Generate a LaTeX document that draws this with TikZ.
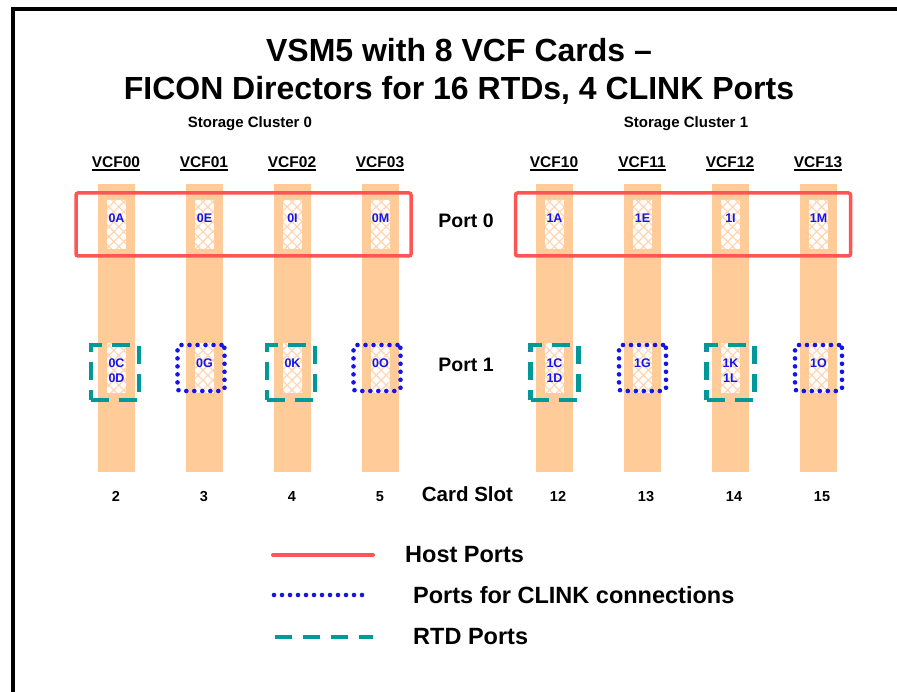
\documentclass[tikz,border=0pt]{standalone}
\usepackage{fontspec}
\setmainfont{Liberation Sans}
\usetikzlibrary{positioning, patterns.meta}
\definecolor{peach}{RGB}{255,204,153}
\definecolor{peachline}{RGB}{255,214,176}
\definecolor{hostred}{RGB}{255,85,85}
\definecolor{rtdteal}{RGB}{0,153,153}
\definecolor{clinkblue}{RGB}{20,20,235}
\tikzset{
  x=1pt, y=-1pt, % one unit is one pixel of the sketch, y runs down
  every node/.style={inner sep=0pt}, % nodes sit exactly on their coordinates
  bar/.style={fill=peach, minimum width=37pt, minimum height=288pt}, % the card
  hatch/.style={preaction={fill=white}, pattern={Hatch[angle=45,distance=7pt,line width=1.2pt]},
    pattern color=peachline, minimum width=19pt}, % the port window on a card
  portid/.style={text=clinkblue, align=center, font=\bfseries\fontsize{12.5}{15}\selectfont},
  host/.style={draw=hostred, line width=3.5pt, rounded corners=2pt, minimum width=335pt, minimum height=63pt},
  clink/.style={draw=clinkblue, line width=4.6pt, dash pattern=on 0pt off 8pt, line cap=round},
  rtd/.style={draw=rtdteal, line width=4.5pt, dash pattern=on 18pt off 10pt},
  vcf/.style={anchor=base, font=\bfseries\fontsize{15.5}{18}\selectfont},
  slot/.style={anchor=base, font=\bfseries\fontsize{14.5}{17}\selectfont},
  side/.style={anchor=base, font=\bfseries\fontsize{19.5}{23}\selectfont},
  legend/.style={font=\bfseries\fontsize{23.5}{28}\selectfont},
}

\begin{document}
\begin{tikzpicture}
    \useasboundingbox (0,0) rectangle (897,692);
    \clip (0,0) rectangle (897,692);
    \draw[line width=4pt] (12.5,720) -- (12.5,9) -- (920,9);

    % title
    \node[anchor=base, font=\bfseries\fontsize{32}{38}\selectfont] (title1) at (459,62) {VSM5 with 8 VCF Cards –};
    \node[anchor=base, font=\bfseries\fontsize{32}{38}\selectfont] (title2) at (459,100) {FICON Directors for 16 RTDs, 4 CLINK Ports};
    \node[anchor=base, font=\bfseries\fontsize{15}{18}\selectfont] (sc0) at (250,128) {Storage Cluster 0};
    \node[anchor=base, font=\bfseries\fontsize{15}{18}\selectfont] (sc1) at (686,128) {Storage Cluster 1};

    % cards
    \node[bar] (c00) at (116,328) {};
    \node[bar] (c01) at (204,328) {};
    \node[bar] (c02) at (292,328) {};
    \node[bar] (c03) at (380,328) {};
    \node[bar] (c10) at (554,328) {};
    \node[bar] (c11) at (642,328) {};
    \node[bar] (c12) at (730,328) {};
    \node[bar] (c13) at (818,328) {};

    % card names
    \node[vcf] (v00) at (116,168) {VCF00};
    \node[vcf] (v01) at (204,168) {VCF01};
    \node[vcf] (v02) at (292,168) {VCF02};
    \node[vcf] (v03) at (380,168) {VCF03};
    \node[vcf] (v10) at (554,168) {VCF10};
    \node[vcf] (v11) at (642,168) {VCF11};
    \node[vcf] (v12) at (730,168) {VCF12};
    \node[vcf] (v13) at (818,168) {VCF13};
    \draw[line width=2pt] ([yshift=-2.5pt]v00.base west) -- ([yshift=-2.5pt]v00.base east)
      ([yshift=-2.5pt]v01.base west) -- ([yshift=-2.5pt]v01.base east)
      ([yshift=-2.5pt]v02.base west) -- ([yshift=-2.5pt]v02.base east)
      ([yshift=-2.5pt]v03.base west) -- ([yshift=-2.5pt]v03.base east)
      ([yshift=-2.5pt]v10.base west) -- ([yshift=-2.5pt]v10.base east)
      ([yshift=-2.5pt]v11.base west) -- ([yshift=-2.5pt]v11.base east)
      ([yshift=-2.5pt]v12.base west) -- ([yshift=-2.5pt]v12.base east)
      ([yshift=-2.5pt]v13.base west) -- ([yshift=-2.5pt]v13.base east);

    % port 0 windows
    \node[hatch, minimum height=49pt] (w00) at (116.5,224.5) {};
    \node[hatch, minimum height=49pt] (w01) at (204.5,224.5) {};
    \node[hatch, minimum height=49pt] (w02) at (292.5,224.5) {};
    \node[hatch, minimum height=49pt] (w03) at (380.5,224.5) {};
    \node[hatch, minimum height=49pt] (w10) at (554.5,224.5) {};
    \node[hatch, minimum height=49pt] (w11) at (642.5,224.5) {};
    \node[hatch, minimum height=49pt] (w12) at (730.5,224.5) {};
    \node[hatch, minimum height=49pt] (w13) at (818.5,224.5) {};
    \node[portid] (p0A) at (116.5,218) {0A};
    \node[portid] (p0E) at (204.5,218) {0E};
    \node[portid] (p0I) at (292.5,218) {0I};
    \node[portid] (p0M) at (380.5,218) {0M};
    \node[portid] (p1A) at (554.5,218) {1A};
    \node[portid] (p1E) at (642.5,218) {1E};
    \node[portid] (p1I) at (730.5,218) {1I};
    \node[portid] (p1M) at (818.5,218) {1M};

    % port 1 windows
    \node[hatch, minimum height=50pt] (x00) at (116.5,368) {};
    \node[hatch, minimum height=50pt] (x01) at (204.5,368) {};
    \node[hatch, minimum height=50pt] (x02) at (292.5,368) {};
    \node[hatch, minimum height=50pt] (x03) at (380.5,368) {};
    \node[hatch, minimum height=50pt] (x10) at (554.5,368) {};
    \node[hatch, minimum height=50pt] (x11) at (642.5,368) {};
    \node[hatch, minimum height=50pt] (x12) at (730.5,368) {};
    \node[hatch, minimum height=50pt] (x13) at (818.5,368) {};
    \node[portid] (p0C) at (116.5,370.5) {0C\\0D};
    \node[portid] (p0G) at (204.5,363) {0G};
    \node[portid] (p0K) at (292.5,363) {0K};
    \node[portid] (p0O) at (380.5,363) {0O};
    \node[portid] (p1C) at (554.5,370.5) {1C\\1D};
    \node[portid] (p1G) at (642.5,363) {1G};
    \node[portid] (p1K) at (730.5,370.5) {1K\\1L};
    \node[portid] (p1O) at (818.5,363) {1O};

    % port groups
    \node[host] (host0) at (243.5,224.5) {};
    \node[host] (host1) at (683,224.5) {};
    \node[rtd, minimum width=48pt, minimum height=55pt] (r00) at (115,372.5) {};
    \node[clink, rounded corners=3pt, minimum width=47pt, minimum height=46pt] (k01) at (201,368) {};
    \node[rtd, minimum width=48pt, minimum height=55pt] (r02) at (291,372.5) {};
    \node[clink, rounded corners=3pt, minimum width=47pt, minimum height=46pt] (k03) at (377,368) {};
    \node[rtd, minimum width=48pt, minimum height=55pt] (r10) at (554.5,372.5) {};
    \node[clink, rounded corners=3pt, minimum width=47pt, minimum height=46pt] (k11) at (642.5,368) {};
    \node[rtd, minimum width=48pt, minimum height=55pt] (r12) at (730.5,372.5) {};
    \node[clink, rounded corners=3pt, minimum width=47pt, minimum height=46pt] (k13) at (818.5,368) {};

    \node[side] (port0) at (466,228) {Port 0};
    \node[side] (port1) at (466,372) {Port 1};

    % card slots
    \node[slot] (s2) at (116,501) {2};
    \node[slot] (s3) at (204,501) {3};
    \node[slot] (s4) at (292,501) {4};
    \node[slot] (s5) at (380,501) {5};
    \node[anchor=base, font=\bfseries\fontsize{20.5}{24}\selectfont] (cardslot) at (467.5,501) {Card Slot};
    \node[slot] (s12) at (558,501) {12};
    \node[slot] (s13) at (646,501) {13};
    \node[slot] (s14) at (734,501) {14};
    \node[slot] (s15) at (822,501) {15};

    % legend
    \coordinate (h1) at (273,555);
    \coordinate (h2) at (373,555);
    \coordinate (k1) at (274,595);
    \coordinate (k2) at (366,595);
    \coordinate (t1) at (275,637);
    \coordinate (t2) at (373,637);
    \draw[draw=hostred, line width=4pt, line cap=round] (h1) -- (h2);
    \draw[clink] (k1) -- (k2);
    \draw[rtd, dash pattern=on 17pt off 11pt] (t1) -- (t2);
    \node[legend, right=32pt of h2] (hostlbl) {Host Ports};
    \node[legend, right=47pt of k2] (clinklbl) {Ports for CLINK connections};
    \node[legend, right=40pt of t2] (rtdlbl) {RTD Ports};
\end{tikzpicture}
\end{document}
